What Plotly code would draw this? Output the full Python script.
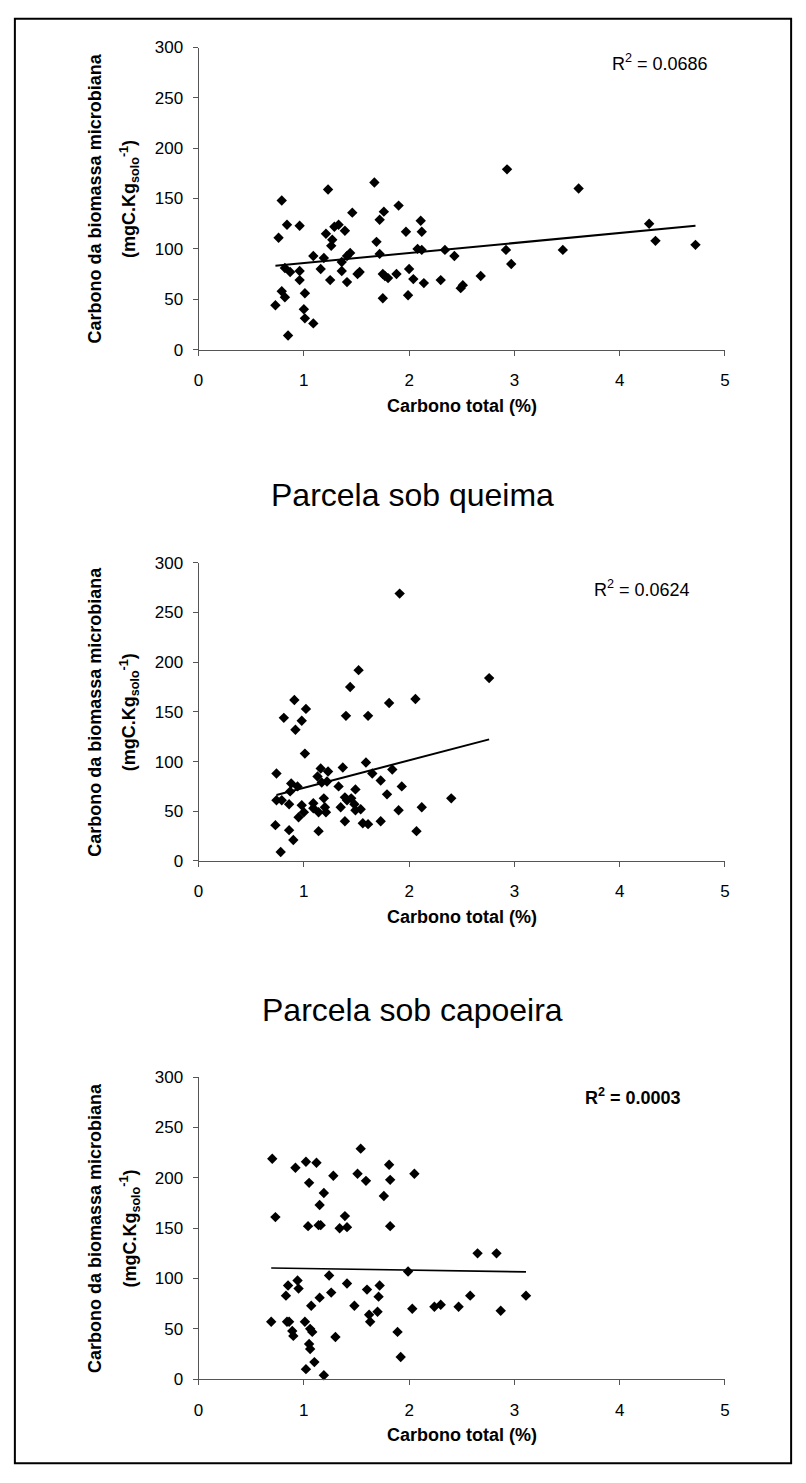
import plotly.graph_objects as go

# ---------------- data ----------------
# Panel 1 (top)
p1_x = [0.73, 0.76, 0.79, 0.79, 0.82, 0.82, 0.84, 0.87, 0.85, 0.96, 0.96, 0.96, 1.01, 1.00, 1.01,
        1.09, 1.09, 1.16, 1.19, 1.21, 1.23, 1.25, 1.26, 1.27, 1.29, 1.33, 1.36, 1.36, 1.39, 1.41,
        1.41, 1.44, 1.46, 1.51, 1.53, 1.67, 1.69, 1.72, 1.72, 1.76, 1.75, 1.77, 1.80, 1.75, 1.88,
        1.90, 1.97, 2.00, 1.99, 2.04, 2.08, 2.11, 2.12, 2.12, 2.14, 2.30, 2.34, 2.43, 2.49, 2.51,
        2.68, 2.92, 2.93, 2.97, 3.46, 3.61, 4.28, 4.34, 4.72]
p1_y = [44, 111, 148, 58, 52, 81, 124, 77, 14, 123, 78, 69, 56, 40, 31,
        26, 93, 80, 91, 115, 159, 69, 103, 109, 122, 124, 87, 78, 118, 67,
        93, 96, 136, 75, 77, 166, 107, 129, 95, 137, 75, 73, 71, 51, 75,
        143, 117, 80, 54, 70, 100, 128, 117, 99, 66, 69, 99, 93, 61, 64,
        73, 99, 179, 85, 99, 160, 125, 108, 104]
trend1_x = [0.73, 4.72]
trend1_y = [83.3, 122.9]

# Panel 2 (Parcela sob queima)
p2_x = [0.74, 0.74, 0.79, 0.73, 0.78, 0.81, 0.86, 0.86, 0.88, 0.87, 0.94, 0.91, 0.92, 0.90, 0.95,
        0.98, 0.98, 1.00, 1.01, 1.02, 1.09, 1.09, 1.13, 1.14, 1.16, 1.14, 1.17, 1.19, 1.20, 1.21,
        1.23, 1.22, 1.33, 1.35, 1.37, 1.39, 1.39, 1.40, 1.41, 1.44, 1.45, 1.48, 1.49, 1.49, 1.54,
        1.52, 1.56, 1.61, 1.59, 1.61, 1.65, 1.73, 1.73, 1.79, 1.81, 1.84, 1.90, 1.91, 1.93, 2.06,
        2.07, 2.12, 2.40, 2.76]
p2_y = [88, 61, 61, 36, 9, 144, 57, 31, 78, 70, 75, 162, 132, 21, 44,
        141, 56, 49, 108, 153, 58, 53, 85, 30, 93, 49, 79, 63, 54, 49,
        90, 80, 75, 54, 94, 40, 64, 146, 61, 175, 63, 57, 72, 51, 52,
        192, 38, 37, 99, 146, 88, 81, 40, 67, 159, 92, 51, 269, 75, 163,
        30, 54, 63, 184]
trend2_x = [0.74, 2.76]
trend2_y = [66.4, 122.3]

# Panel 3 (Parcela sob capoeira)
p3_x = [0.70, 0.73, 0.69, 0.83, 0.85, 0.84, 0.86, 0.89, 0.90, 0.92, 0.94, 0.95, 1.02, 1.01, 1.02,
        1.05, 1.04, 1.06, 1.05, 1.06, 1.07, 1.08, 1.10, 1.12, 1.15, 1.15, 1.14, 1.16, 1.19, 1.19,
        1.24, 1.26, 1.28, 1.30, 1.34, 1.39, 1.41, 1.41, 1.48, 1.51, 1.54, 1.59, 1.60, 1.62, 1.63,
        1.70, 1.71, 1.72, 1.76, 1.81, 1.82, 1.82, 1.89, 1.92, 1.99, 2.03, 2.05, 2.24, 2.30, 2.47,
        2.58, 2.65, 2.83, 2.87, 3.11]
p3_y = [219, 161, 57, 83, 93, 57, 57, 48, 43, 210, 98, 90, 216, 57, 10,
        195, 152, 50, 35, 30, 73, 47, 17, 215, 173, 81, 153, 153, 185, 4,
        103, 86, 202, 42, 150, 162, 151, 95, 73, 204, 229, 197, 89, 64, 57,
        67, 82, 93, 182, 213, 198, 152, 47, 22, 107, 70, 204, 72, 74, 72,
        83, 125, 125, 68, 83]
trend3_x = [0.69, 3.11]
trend3_y = [110.5, 106.6]

r2_texts = ["R<sup>2</sup> = 0.0686", "R<sup>2</sup> = 0.0624", "<b>R<sup>2</sup> = 0.0003</b>"]
r2_pos = [(4.385, 285), (4.215, 274), (4.125, 281)]
titles = ["Parcela sob queima", "Parcela sob capoeira"]
x_title = "Carbono total (%)"
y_title_1 = "Carbono da biomassa microbiana"
y_title_2 = "(mgC.Kg<sub>solo</sub><sup>-1</sup>)"
x_ticks = [0, 1, 2, 3, 4, 5]
y_ticks = [0, 50, 100, 150, 200, 250, 300]

# ---------------- layout geometry ----------------
W, H = 806, 1483
FONT = "Liberation Sans, Arial, sans-serif"
x_left, x_right = 196, 729
panels_px = [(39, 345), (561, 863), (1082, 1388)]  # (top, bottom) in px


def py(v):
    return 1 - v / H


def px(v):
    return v / W


fig = go.Figure()
datasets = [(p1_x, p1_y, trend1_x, trend1_y), (p2_x, p2_y, trend2_x, trend2_y),
            (p3_x, p3_y, trend3_x, trend3_y)]

annotations = []
for i, (xs, ys, tx, ty) in enumerate(datasets):
    n = i + 1
    xa = "x" if n == 1 else f"x{n}"
    ya = "y" if n == 1 else f"y{n}"
    fig.add_trace(go.Scatter(x=xs, y=ys, mode="markers", xaxis=xa, yaxis=ya,
                             marker=dict(symbol="diamond", size=8, color="black",
                                         line=dict(width=0)),
                             cliponaxis=False, showlegend=False, hoverinfo="skip"))
    fig.add_trace(go.Scatter(x=tx, y=ty, mode="lines", xaxis=xa, yaxis=ya,
                             line=dict(color="black", width=2 if n < 3 else 1.6),
                             showlegend=False, hoverinfo="skip"))
    top, bot = panels_px[i]
    axis_common = dict(showgrid=False, zeroline=False, showline=True, linecolor="#555555",
                       linewidth=1, ticks="outside", ticklen=5, tickcolor="#555555",
                       tickfont=dict(family=FONT, size=17, color="black"))
    xkey = "xaxis" if n == 1 else f"xaxis{n}"
    ykey = "yaxis" if n == 1 else f"yaxis{n}"
    fig.update_layout({
        xkey: dict(domain=[px(x_left), px(x_right)], anchor=ya, range=[0, 5],
                   tickvals=x_ticks, ticklabelstandoff=10, **axis_common),
        ykey: dict(domain=[py(bot), py(top)], anchor=xa, range=[0, 300],
                   tickvals=y_ticks, ticklabelstandoff=6, **axis_common),
    })
    # R^2 label
    annotations.append(dict(x=r2_pos[i][0], y=r2_pos[i][1], xref=xa, yref=ya,
                             text=r2_texts[i], showarrow=False, xanchor="center",
                             yanchor="middle", font=dict(family=FONT, size=18, color="black")))
    # x-axis title
    annotations.append(dict(x=px((x_left + x_right) / 2), y=py(bot + 57), xref="paper", yref="paper",
                            text="<b>" + x_title + "</b>", showarrow=False, xanchor="center",
                            yanchor="middle", font=dict(family=FONT, size=18, color="black")))
    # y-axis title (two lines)
    yc = (top + bot) / 2
    annotations.append(dict(x=px(91), y=py(yc), xref="paper", yref="paper",
                            text="<b>" + y_title_1 + "</b>", textangle=-90, showarrow=False,
                            xanchor="center", yanchor="middle",
                            font=dict(family=FONT, size=18, color="black")))
    annotations.append(dict(x=px(126), y=py(yc), xref="paper", yref="paper",
                            text="<b>" + y_title_2 + "</b>", textangle=-90, showarrow=False,
                            xanchor="center", yanchor="middle",
                            font=dict(family=FONT, size=18, color="black")))

# panel titles
for t, ycen in zip(titles, [492, 1014]):
    annotations.append(dict(x=px(413), y=py(ycen), xref="paper", yref="paper", text=t,
                            showarrow=False, xanchor="center", yanchor="middle",
                            font=dict(family=FONT, size=32, color="black")))

fig.update_layout(
    width=W, height=H,
    margin=dict(l=0, r=0, t=0, b=0),
    paper_bgcolor="white", plot_bgcolor="white",
    annotations=annotations,
    shapes=[dict(type="rect", xref="paper", yref="paper",
                 x0=px(10), x1=px(796), y0=py(1473), y1=py(10),
                 line=dict(color="black", width=2), fillcolor="rgba(0,0,0,0)")],
)

fig.write_html("out.html")
